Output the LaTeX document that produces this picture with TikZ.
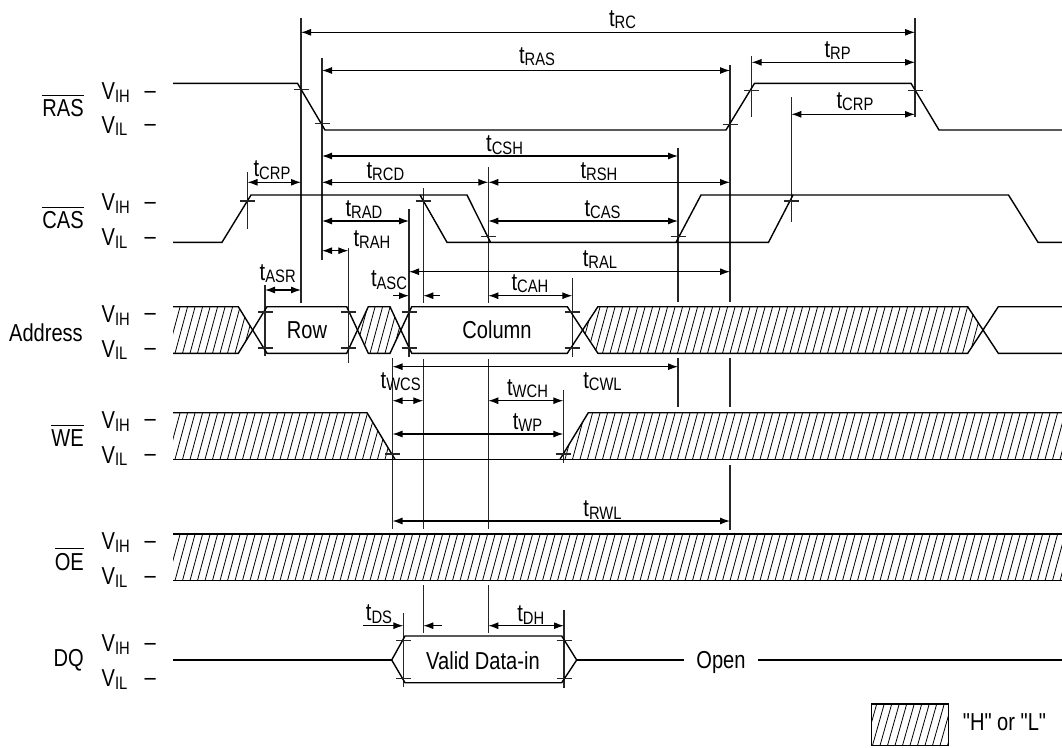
\documentclass[tikz,border=0pt]{standalone}
\usepackage{fontspec}
\setmainfont{Liberation Sans}[FakeStretch=0.82]
\newfontfamily\qfont{Liberation Sans}[FakeStretch=0.82,Ligatures=TeXOff]
\usetikzlibrary{arrows.meta}
\newcommand{\sbs}[1]{\raisebox{-2.5pt}{\fontsize{18}{20}\selectfont #1}}
\newcommand{\tlab}[1]{t\sbs{#1}}
\newcommand{\ovl}[1]{\vbox{\hrule height 1.2pt\kern 3.5pt\hbox{#1}}}
\newcommand{\hatchband}[4]{%
  \begin{scope}
    \clip #1;
    \foreach \hx in {130,137.5,...,1075} \draw[hatchline] (\hx,#2) -- ++(#3,-#4);
  \end{scope}}
\tikzset{
  wave/.style={line width=1.4pt},
  refl/.style={line width=1.1pt, black!85},
  tickl/.style={line width=1.1pt, black!85},
  dim/.style={line width=1.1pt, {Latex[length=10pt,width=7pt]}-{Latex[length=10pt,width=7pt]}},
  dimr/.style={line width=1.1pt, -{Latex[length=10pt,width=7pt]}},
  hatchline/.style={line width=0.8pt},
}
\begin{document}
\begin{tikzpicture}[x=1pt,y=-1pt,
  every node/.style={inner sep=0pt, font=\fontsize{24.5}{28}\selectfont}]
\useasboundingbox (0,0) rectangle (1062,747);

% ---------- signal names ----------
\node[anchor=base east] (nRAS) at (84,116.5) {\ovl{RAS}};
\node[anchor=base east] (nCAS) at (84,228.5) {\ovl{CAS}};
\node[anchor=base east] (nAddr) at (83,341) {Address};
\node[anchor=base east] (nWE) at (84,446.7) {\ovl{WE}};
\node[anchor=base east] (nOE) at (84,570) {\ovl{OE}};
\node[anchor=base east] (nDQ) at (84,666) {DQ};

% ---------- level labels ----------
\foreach \n/\h/\l in {ras/91/124.5, cas/202/237, adr/313.7/348.3, we/419.7/454.3, oe/541/576, dq/643/678}{
  \node[anchor=base west] (vih\n) at (101.5,\h+8.8) {V\sbs{IH}};
  \node[anchor=base west] (dih\n) at (144.5,\h+7) {\textendash};
  \node[anchor=base west] (vil\n) at (101.5,\l+8.8) {V\sbs{IL}};
  \node[anchor=base west] (dil\n) at (144.5,\l+7) {\textendash};
}

% ---------- reference lines ----------
\draw[refl] (301,18) -- (301,303);
\draw[refl] (322,58) -- (322,260);
\draw[refl] (247.5,172) -- (247.5,229);
\draw[refl] (265,285) -- (265,356);
\draw[refl] (348.3,248) -- (348.3,363);
\draw[refl] (409,209) -- (409,357);
\draw[refl] (423.3,188) -- (423.3,303) (423.3,359) -- (423.3,529) (423.3,585) -- (423.3,633);
\draw[refl] (488.3,167) -- (488.3,303) (488.3,359) -- (488.3,529) (488.3,585) -- (488.3,633);
\draw[refl] (572.3,278) -- (572.3,357);
\draw[refl] (563.3,390) -- (563.3,463);
\draw[refl] (392.5,358) -- (392.5,529);
\draw[refl] (678,148) -- (678,302) (678,358) -- (678,407);
\draw[refl] (730,65) -- (730,302) (730,358) -- (730,407) (730,465) -- (730,530);
\draw[refl] (751.6,56) -- (751.6,117);
\draw[refl] (915,18) -- (915,117);
\draw[refl] (791.3,97) -- (791.3,222);
\draw[refl] (403.3,613) -- (403.3,687);
\draw[refl] (564,610) -- (564,688);

% ---------- RAS ----------
\draw[wave] (173,83.3) -- (297.5,83.3) -- (325,130) -- (726,130) -- (754.5,83.3) -- (911,83.3) -- (939,130) -- (1062,130);
% ---------- CAS ----------
\draw[wave] (173,242.3) -- (222,242.3) -- (251,195) -- (467,195) -- (490.5,242.3);
\draw[wave] (420,195) -- (447,242.3) -- (768.5,242.3) -- (793,195) -- (1008.5,195) -- (1038,242.3) -- (1062,242.3);
\draw[wave] (676,242.3) -- (701,195) -- (793,195);

% ---------- Address ----------
\hatchband{(173,306.7) -- (238.3,306.7) -- (252.7,330) -- (238.3,353.3) -- (173,353.3) -- cycle}{353.3}{12.6}{46.6}
\hatchband{(357.5,330) -- (368.3,306.7) -- (390,306.7) -- (400.8,330) -- (390,353.3) -- (368.3,353.3) -- cycle}{353.3}{12.6}{46.6}
\hatchband{(582.6,330) -- (597.9,306.7) -- (967.7,306.7) -- (983,330) -- (967.7,353.3) -- (597.9,353.3) -- cycle}{353.3}{12.6}{46.6}
\draw[wave] (173,306.7) -- (238.3,306.7) -- (267,353.3) -- (346.7,353.3) -- (368.3,306.7) -- (390,306.7) -- (411.7,353.3) -- (567.3,353.3) -- (597.9,306.7) -- (967.7,306.7) -- (998.3,353.3) -- (1062,353.3);
\draw[wave] (173,353.3) -- (238.3,353.3) -- (267,306.7) -- (346.7,306.7) -- (368.3,353.3) -- (390,353.3) -- (411.7,306.7) -- (567.3,306.7) -- (597.9,353.3) -- (967.7,353.3) -- (998.3,306.7) -- (1062,306.7);
\node[anchor=base] (tRow) at (307,338.5) {Row};
\node[anchor=base] (tCol) at (497,338.5) {Column};

% ---------- WE ----------
\hatchband{(173,412.7) -- (367,412.7) -- (395,459.3) -- (173,459.3) -- cycle}{459.3}{12.6}{46.6}
\hatchband{(560,459.3) -- (588.3,412.7) -- (1062,412.7) -- (1062,459.3) -- cycle}{459.3}{12.6}{46.6}
\draw[wave] (173,412.7) -- (367,412.7) -- (395,459.3);
\draw[wave] (560,459.3) -- (588.3,412.7) -- (1062,412.7);
\draw[wave] (173,459.3) -- (1062,459.3);

% ---------- OE ----------
\hatchband{(173,534) rectangle (1062,580.7)}{580.7}{12.6}{46.6}
\draw[wave] (173,534) -- (1062,534) (173,580.7) -- (1062,580.7);

% ---------- DQ ----------
\draw[wave] (173,660) -- (391.7,660);
\draw[wave] (391.7,660) -- (405,636) -- (561.7,636) -- (576.7,660) -- (561.7,682.7) -- (405,682.7) -- cycle;
\draw[wave] (576.7,660) -- (684.4,660) (758,660) -- (1062,660);
\node[anchor=base] (tValid) at (483,669) {Valid Data-in};
\node[anchor=base] (tOpen) at (721,668.5) {Open};

% ---------- ticks ----------
\foreach \x/\y in {301/89.3, 322/123.3, 730/124.5, 751.6/90.5, 915/90.5,
  247.5/201, 423.3/201, 488.3/236.5, 678/236.5, 791.3/201,
  265/312, 265/348, 348.3/312, 348.3/348, 409/312, 409/348, 572.3/312, 572.3/348,
  392.5/454, 563.3/454,
  403.3/640.7, 403.3/678.3, 564/640.7, 564/678.3}
  \draw[tickl] (\x-7.5,\y) -- (\x+7.5,\y);

% ---------- timing arrows ----------
\draw[dim] (301,32.3) -- (915,32.3);
\draw[dim] (322,70.5) -- (730,70.5);
\draw[dim] (751.6,62.3) -- (915,62.3);
\draw[dim] (791.3,114.3) -- (915,114.3);
\draw[dim] (322,156) -- (678,156);
\draw[dim] (322,182.3) -- (488.3,182.3);
\draw[dim] (488.3,182.3) -- (730,182.3);
\draw[dim] (247.5,182.3) -- (301,182.3);
\draw[dim] (322,221) -- (409,221);
\draw[dim] (488.3,221) -- (678,221);
\draw[dim] (322,250.7) -- (348.3,250.7);
\draw[dim] (409,271.7) -- (730,271.7);
\draw[dim] (265,290) -- (301,290);
\draw[dimr] (393.3,295.7) -- (409,295.7);
\draw[dimr] (440,295.7) -- (423.3,295.7);
\draw[dim] (488.3,295.7) -- (572.3,295.7);
\draw[dim] (392.5,366.7) -- (678,366.7);
\draw[dim] (392.5,400.7) -- (423.3,400.7);
\draw[dim] (488.3,400.7) -- (563.3,400.7);
\draw[dim] (392.5,434) -- (563.3,434);
\draw[dim] (392.5,521) -- (730,521);
\draw[dimr] (363.3,625.7) -- (403.3,625.7);
\draw[dimr] (441.7,625.7) -- (423.3,625.7);
\draw[dim] (488.3,625.7) -- (564,625.7);

% ---------- timing labels ----------
\begin{scope}[every node/.append style={anchor=base}]
\node (lRC) at (622.5,26) {\tlab{RC}};
\node (lRAS) at (537,63.3) {\tlab{RAS}};
\node (lRP) at (837.6,57.3) {\tlab{RP}};
\node (lCRPb) at (855,108.3) {\tlab{CRP}};
\node (lCSH) at (504.6,151.7) {\tlab{CSH}};
\node (lRCD) at (385.4,178.3) {\tlab{RCD}};
\node (lCRPa) at (272,176.7) {\tlab{CRP}};
\node (lRSH) at (599,178.3) {\tlab{RSH}};
\node (lCAS) at (602.6,216) {\tlab{CAS}};
\node (lRAD) at (364,216) {\tlab{RAD}};
\node (lRAH) at (372,246) {\tlab{RAH}};
\node (lRAL) at (600,266) {\tlab{RAL}};
\node (lASR) at (277.7,280) {\tlab{ASR}};
\node (lASC) at (389,286.7) {\tlab{ASC}};
\node (lCAH) at (530,290) {\tlab{CAH}};
\node (lCWL) at (602.5,388.3) {\tlab{CWL}};
\node (lWCS) at (400.7,388.3) {\tlab{WCS}};
\node (lWCH) at (527.5,395) {\tlab{WCH}};
\node (lWP) at (527.5,429.3) {\tlab{WP}};
\node (lRWL) at (602.5,516.7) {\tlab{RWL}};
\node (lDS) at (379,620.7) {\tlab{DS}};
\node (lDH) at (530.8,621.7) {\tlab{DH}};
\end{scope}

% ---------- legend ----------
\hatchband{(871.7,704) rectangle (948.3,745.5)}{745.5}{11.7}{41.5}
\draw[wave] (871.7,704) rectangle (948.3,745.5);
\node[anchor=base] (tHL) at (1004.5,730.7) {\qfont "H" or "L"};
\end{tikzpicture}
\end{document}
